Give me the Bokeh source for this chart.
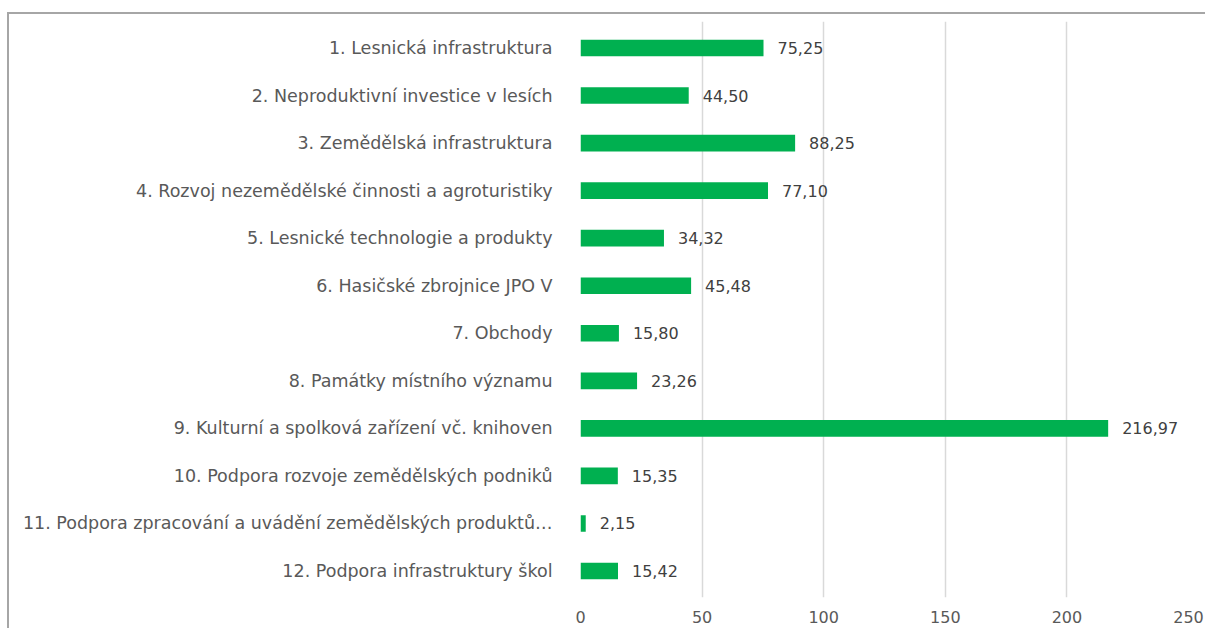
from bokeh.plotting import figure
from bokeh.models import ColumnDataSource, FactorRange, Range1d, FixedTicker
from bokeh.core.properties import value
from bokeh.embed import file_html
from bokeh.resources import INLINE

categories = [
    "1. Lesnická infrastruktura",
    "2. Neproduktivní investice v lesích",
    "3. Zemědělská infrastruktura",
    "4. Rozvoj nezemědělské činnosti a agroturistiky",
    "5. Lesnické technologie a produkty",
    "6. Hasičské zbrojnice JPO V",
    "7. Obchody",
    "8. Památky místního významu",
    "9. Kulturní a spolková zařízení vč. knihoven",
    "10. Podpora rozvoje zemědělských podniků",
    "11. Podpora zpracování a uvádění zemědělských produktů…",
    "12. Podpora infrastruktury škol",
]
values = [75.25, 44.50, 88.25, 77.10, 34.32, 45.48, 15.80, 23.26, 216.97, 15.35, 2.15, 15.42]
x_ticks = [0, 50, 100, 150, 200, 250]

labels = [f"{v:.2f}".replace(".", ",") for v in values]
src = ColumnDataSource(dict(cat=categories, val=values, lbl=labels))

FONT = "DejaVu Sans"

p = figure(
    width=1198, height=616,
    y_range=FactorRange(*reversed(categories), range_padding=0.057,
                        range_padding_units="absolute"),
    x_range=Range1d(0, 250),
    output_backend="svg", toolbar_location=None,
    min_border_left=571, min_border_right=19,
    min_border_top=7, min_border_bottom=33,
    styles={"border-top": "2px solid #a6a6a6", "border-left": "2px solid #a6a6a6",
            "margin-top": "12px", "margin-left": "7px"},
)
p.outline_line_color = None
p.background_fill_color = "white"
p.border_fill_color = "white"

p.hbar(y="cat", right="val", left=0, height=0.35, source=src,
       fill_color="#00B050", line_color=None)
p.text(x="val", y="cat", text="lbl", source=src, x_offset=14,
       text_baseline="middle", text_align="left", text_color="#404040",
       text_font=value(FONT), text_font_size="16px")

p.xaxis.ticker = FixedTicker(ticks=x_ticks)
p.xaxis.axis_line_color = None
p.xaxis.major_tick_line_color = None
p.xaxis.minor_tick_line_color = None
p.xaxis.major_label_standoff = 7
p.xaxis.major_label_text_font = FONT
p.xaxis.major_label_text_font_size = "16px"
p.xaxis.major_label_text_color = "#595959"

p.yaxis.axis_line_color = None
p.yaxis.major_tick_line_color = None
p.yaxis.minor_tick_line_color = None
p.yaxis.major_label_standoff = 22
p.yaxis.major_label_text_font = FONT
p.yaxis.major_label_text_font_size = "17.5px"
p.yaxis.major_label_text_color = "#595959"

p.ygrid.grid_line_color = None
p.xgrid.grid_line_color = "#d9d9d9"
p.xgrid.grid_line_width = 1.5

open("out.html", "w").write(file_html(p, INLINE))
